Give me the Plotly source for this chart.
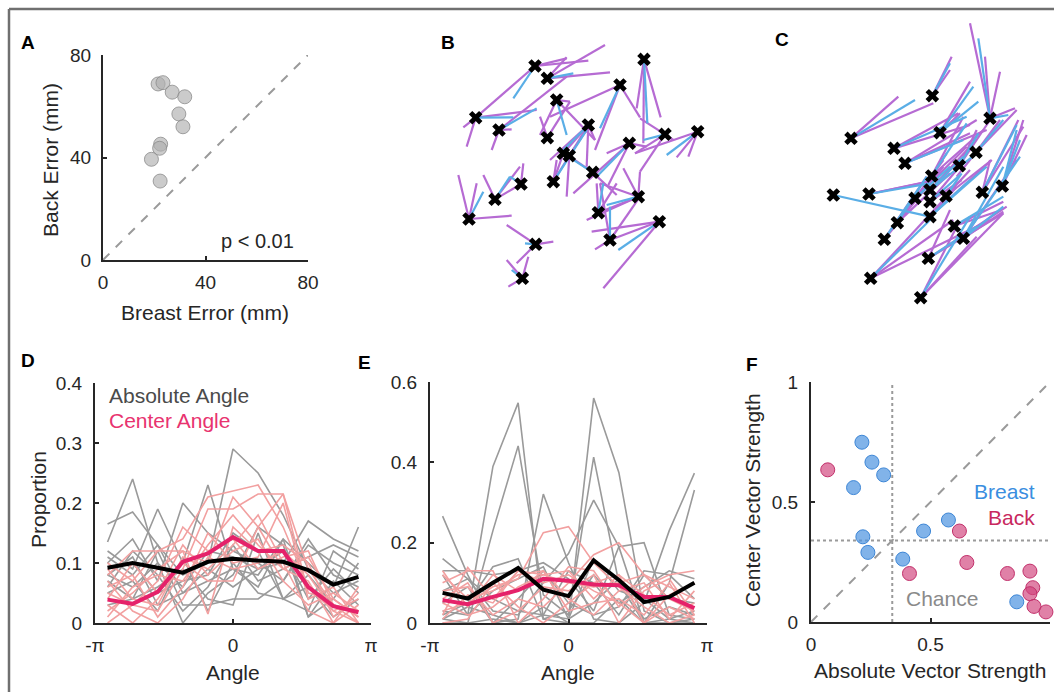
import plotly.graph_objects as go
import math

W, H = 1054, 692
PI = math.pi

# ---------------- Panel A data ----------------
a_breast = [21.5, 23.4, 27.0, 31.9, 29.6, 31.2, 22.5, 22.1, 18.9, 22.3]
a_back = [68.7, 69.2, 65.5, 63.7, 57.0, 52.0, 45.2, 43.6, 39.3, 30.8]

# ---------------- Panel B data (marker positions / segment end points, image units) ----------------
b_mx = [285, 322, 612, 540, 350, 107, 177, 445, 322, 675, 773, 568, 370, 388, 458, 340, 243, 165, 595, 475, 87, 658, 510, 287, 247]
b_my = [78, 115, 58, 135, 180, 233, 270, 255, 293, 283, 275, 310, 340, 347, 397, 425, 432, 478, 470, 518, 537, 545, 600, 613, 715]
b_purple = [(0, 445, 62), (0, 380, 55), (1, 510, 97), (1, 495, 15), (2, 610, 310), (2, 662, 232), (2, 590, 205),
            (3, 465, 330), (3, 600, 232), (3, 330, 230), (4, 300, 285), (4, 390, 185), (4, 465, 300),
            (5, 285, 78), (5, 290, 210), (5, 80, 320), (5, 70, 262), (6, 155, 330), (6, 215, 268), (6, 380, 110),
            (7, 440, 380), (7, 465, 300), (7, 330, 360), (8, 300, 230), (9, 600, 235), (9, 600, 395), (9, 585, 340),
            (10, 585, 340), (10, 710, 352), (10, 745, 350), (11, 500, 340), (11, 400, 460), (11, 505, 435),
            (12, 445, 255), (12, 340, 425), (13, 440, 270), (14, 390, 350), (14, 530, 465), (15, 445, 255),
            (15, 350, 360), (16, 250, 370), (16, 165, 478), (17, 130, 405), (17, 240, 380), (18, 480, 430),
            (18, 550, 385), (18, 440, 540), (19, 470, 430), (19, 595, 470), (19, 530, 430), (20, 55, 405),
            (20, 215, 527), (20, 110, 430), (21, 455, 575), (21, 490, 745), (22, 480, 430), (22, 465, 628),
            (22, 655, 545), (23, 200, 555), (23, 340, 605), (23, 230, 670), (24, 200, 660), (24, 205, 740),
            (24, 265, 650), (8, 390, 185), (13, 380, 470), (18, 600, 395), (11, 620, 320), (9, 700, 300),
            (22, 600, 470), (1, 380, 52)]
b_blue = [(0, 220, 175), (1, 400, 100), (2, 622, 250), (3, 480, 265), (4, 380, 285), (5, 220, 232), (6, 290, 205),
          (7, 370, 330), (9, 610, 300), (10, 680, 345), (11, 475, 405), (12, 458, 397), (15, 440, 270),
          (16, 210, 410), (17, 210, 410), (18, 500, 495), (19, 490, 430), (20, 130, 455), (21, 535, 630),
          (22, 510, 500), (23, 255, 610), (24, 215, 690)]

# ---------------- Panel C data ----------------
c_mx = [487, 243, 660, 510, 372, 618, 405, 568, 485, 190, 297, 435, 480, 480, 528, 697, 637, 480, 382, 343, 553, 580, 475, 302, 452]
c_my = [227, 355, 295, 338, 385, 397, 430, 437, 468, 525, 522, 535, 510, 545, 528, 498, 517, 590, 608, 658, 618, 655, 715, 775, 833]
c_purple = [(0, 545, 110), (0, 540, 150), (1, 385, 230), (1, 490, 250), (2, 600, 10), (2, 645, 110), (2, 690, 155),
            (2, 735, 265), (3, 600, 185), (3, 570, 280), (4, 565, 280), (4, 600, 315), (5, 690, 300), (5, 560, 470),
            (6, 600, 340), (6, 650, 330), (7, 660, 300), (7, 620, 330), (8, 580, 290), (8, 530, 400),
            (10, 500, 480), (10, 520, 475), (11, 520, 420), (11, 590, 380), (12, 560, 430), (12, 600, 380),
            (13, 560, 450), (13, 575, 480), (14, 600, 450), (14, 665, 420), (15, 760, 300), (15, 770, 345),
            (16, 745, 300), (16, 660, 420), (17, 560, 500), (17, 665, 420), (18, 500, 450), (18, 540, 460),
            (19, 470, 470), (19, 520, 440), (20, 700, 545), (20, 695, 570), (21, 740, 420), (21, 700, 575),
            (22, 540, 570), (22, 700, 580), (23, 520, 540), (23, 550, 600), (23, 660, 600), (24, 560, 620),
            (24, 700, 580), (24, 620, 650), (5, 740, 270), (16, 760, 320), (6, 620, 300), (8, 640, 330),
            (22, 710, 560)]
c_blue = [(0, 540, 130), (1, 435, 240), (2, 625, 55), (2, 715, 285), (3, 625, 245), (4, 590, 290), (5, 700, 300),
          (6, 580, 360), (7, 625, 340), (8, 590, 310), (9, 480, 590), (10, 480, 490), (11, 540, 440),
          (12, 580, 410), (13, 570, 465), (14, 575, 460), (15, 750, 360), (16, 740, 315), (17, 600, 480),
          (18, 470, 470), (19, 450, 500), (20, 700, 530), (21, 700, 440), (21, 700, 560), (22, 620, 620),
          (23, 490, 590), (24, 600, 590), (3, 610, 200), (15, 740, 330), (12, 620, 400), (17, 650, 440),
          (21, 750, 410)]

# ---------------- Panel D / E data ----------------
angles = [-2.856, -2.285, -1.714, -1.142, -0.571, 0.0, 0.571, 1.142, 1.714, 2.285, 2.856]

d_abs_mean = [0.092, 0.100, 0.092, 0.084, 0.102, 0.107, 0.104, 0.102, 0.088, 0.064, 0.077]
d_ctr_mean = [0.039, 0.032, 0.052, 0.102, 0.116, 0.143, 0.120, 0.120, 0.060, 0.028, 0.018]
d_abs = [
    [0.165, 0.185, 0.13, 0.08, 0.10, 0.29, 0.25, 0.18, 0.09, 0.05, 0.07],
    [0.135, 0.24, 0.10, 0.06, 0.12, 0.11, 0.09, 0.10, 0.17, 0.14, 0.12],
    [0.12, 0.09, 0.19, 0.10, 0.23, 0.09, 0.08, 0.14, 0.10, 0.06, 0.16],
    [0.10, 0.14, 0.07, 0.20, 0.15, 0.12, 0.10, 0.07, 0.13, 0.10, 0.08],
    [0.08, 0.06, 0.10, 0.00, 0.05, 0.08, 0.16, 0.13, 0.01, 0.04, 0.10],
    [0.07, 0.04, 0.12, 0.03, 0.03, 0.04, 0.04, 0.07, 0.14, 0.08, 0.06],
    [0.09, 0.10, 0.05, 0.07, 0.08, 0.15, 0.12, 0.04, 0.02, 0.12, 0.09],
    [0.05, 0.07, 0.02, 0.11, 0.02, 0.10, 0.05, 0.04, 0.06, 0.01, 0.04],
    [0.11, 0.08, 0.13, 0.05, 0.09, 0.06, 0.09, 0.12, 0.04, 0.09, 0.05],
    [0.06, 0.12, 0.08, 0.02, 0.06, 0.13, 0.07, 0.09, 0.11, 0.13, 0.11],
    [0.03, 0.04, 0.06, 0.09, 0.04, 0.03, 0.15, 0.04, 0.08, 0.03, 0.02],
    [0.08, 0.11, 0.03, 0.05, 0.07, 0.09, 0.06, 0.14, 0.01, 0.07, 0.03],
]
d_ctr = [
    [0.10, 0.07, 0.12, 0.14, 0.21, 0.22, 0.23, 0.16, 0.06, 0.02, 0.00],
    [0.08, 0.12, 0.12, 0.12, 0.10, 0.21, 0.16, 0.215, 0.09, 0.03, 0.02],
    [0.05, 0.03, 0.02, 0.09, 0.19, 0.19, 0.215, 0.215, 0.05, 0.04, 0.01],
    [0.00, 0.03, 0.07, 0.16, 0.12, 0.14, 0.09, 0.11, 0.12, 0.03, 0.00],
    [0.03, 0.00, 0.04, 0.10, 0.07, 0.07, 0.16, 0.09, 0.07, 0.00, 0.03],
    [0.06, 0.08, 0.01, 0.06, 0.15, 0.10, 0.11, 0.20, 0.04, 0.06, 0.00],
    [0.02, 0.05, 0.09, 0.12, 0.015, 0.16, 0.12, 0.13, 0.10, 0.01, 0.05],
    [0.04, 0.10, 0.05, 0.13, 0.08, 0.12, 0.14, 0.07, 0.03, 0.05, 0.02],
    [0.07, 0.02, 0.00, 0.04, 0.11, 0.09, 0.10, 0.12, 0.08, 0.02, 0.04],
    [0.01, 0.06, 0.08, 0.07, 0.13, 0.18, 0.13, 0.09, 0.11, 0.04, 0.01],
    [0.09, 0.04, 0.03, 0.11, 0.09, 0.13, 0.18, 0.10, 0.02, 0.00, 0.06],
]

e_abs_mean = [0.075, 0.061, 0.100, 0.137, 0.083, 0.067, 0.156, 0.107, 0.052, 0.065, 0.100]
e_ctr_mean = [0.057, 0.047, 0.065, 0.082, 0.110, 0.105, 0.096, 0.094, 0.065, 0.065, 0.037]
e_abs = [
    [0.03, 0.02, 0.39, 0.548, 0.01, 0.00, 0.56, 0.375, 0.03, 0.00, 0.01],
    [0.01, 0.00, 0.23, 0.441, 0.07, 0.02, 0.413, 0.10, 0.00, 0.01, 0.03],
    [0.266, 0.12, 0.00, 0.01, 0.321, 0.15, 0.01, 0.00, 0.05, 0.23, 0.373],
    [0.16, 0.11, 0.03, 0.02, 0.10, 0.173, 0.306, 0.19, 0.00, 0.10, 0.331],
    [0.13, 0.13, 0.12, 0.13, 0.15, 0.11, 0.03, 0.19, 0.20, 0.02, 0.01],
    [0.02, 0.05, 0.14, 0.16, 0.01, 0.03, 0.12, 0.05, 0.09, 0.13, 0.11],
    [0.00, 0.00, 0.01, 0.00, 0.04, 0.00, 0.00, 0.06, 0.00, 0.00, 0.00],
    [0.08, 0.11, 0.06, 0.03, 0.02, 0.13, 0.10, 0.02, 0.12, 0.06, 0.05],
    [0.12, 0.02, 0.08, 0.11, 0.14, 0.01, 0.05, 0.11, 0.01, 0.04, 0.02],
    [0.05, 0.09, 0.00, 0.06, 0.13, 0.05, 0.02, 0.04, 0.13, 0.12, 0.06],
    [0.01, 0.04, 0.02, 0.00, 0.02, 0.01, 0.16, 0.08, 0.06, 0.01, 0.00],
]
e_ctr = [
    [0.03, 0.05, 0.09, 0.11, 0.225, 0.24, 0.15, 0.09, 0.04, 0.00, 0.02],
    [0.02, 0.138, 0.06, 0.13, 0.12, 0.10, 0.17, 0.20, 0.12, 0.09, 0.06],
    [0.10, 0.13, 0.13, 0.00, 0.06, 0.14, 0.13, 0.04, 0.09, 0.12, 0.13],
    [0.05, 0.02, 0.04, 0.09, 0.12, 0.13, 0.06, 0.12, 0.00, 0.04, 0.01],
    [0.08, 0.09, 0.02, 0.06, 0.04, 0.10, 0.09, 0.10, 0.12, 0.06, 0.03],
    [0.12, 0.06, 0.08, 0.12, 0.13, 0.03, 0.05, 0.06, 0.02, 0.10, 0.00],
    [0.00, 0.01, 0.10, 0.04, 0.00, 0.05, 0.10, 0.12, 0.07, 0.02, 0.05],
    [0.06, 0.10, 0.00, 0.03, 0.09, 0.08, 0.12, 0.00, 0.08, 0.11, 0.02],
    [0.13, 0.04, 0.12, 0.08, 0.13, 0.06, 0.02, 0.08, 0.10, 0.01, 0.08],
    [0.01, 0.07, 0.05, 0.13, 0.10, 0.12, 0.08, 0.05, 0.00, 0.07, 0.10],
]

# ---------------- Panel F data ----------------
f_breast_abs = [0.213, 0.255, 0.304, 0.178, 0.217, 0.238, 0.384, 0.471, 0.575, 0.861]
f_breast_ctr = [0.749, 0.666, 0.613, 0.560, 0.355, 0.290, 0.262, 0.379, 0.425, 0.084]
f_back_abs = [0.070, 0.621, 0.412, 0.652, 0.822, 0.916, 0.928, 0.916, 0.933, 0.983]
f_back_ctr = [0.634, 0.379, 0.202, 0.248, 0.202, 0.212, 0.143, 0.118, 0.065, 0.042]
chance = 0.34

# ---------------- helpers ----------------
FONT = "Liberation Sans, Arial, Helvetica, sans-serif"
TXT = "#262626"
PURPLE = "#b66bd3"
BLUE = "#5aaee6"
GRAY = "#9a9a9a"
SALMON = "#f2a0a0"
PINK = "#e5226a"


def dom_x(a, b):
    return [a / W, b / W]


def dom_y(top, bottom):
    return [1 - bottom / H, 1 - top / H]


def seg_xy(mx, my, segs):
    xs, ys = [], []
    for i, ex, ey in segs:
        xs += [mx[i], ex, None]
        ys += [my[i], ey, None]
    return xs, ys


def multi(xv, series):
    xs, ys = [], []
    for s in series:
        xs += list(xv) + [None]
        ys += list(s) + [None]
    return xs, ys


fig = go.Figure()

# A
fig.add_trace(go.Scatter(x=[0, 80], y=[0, 80], mode="lines", line=dict(color=GRAY, width=2, dash="dash"),
                         xaxis="x", yaxis="y", hoverinfo="skip"))
fig.add_trace(go.Scatter(x=a_breast, y=a_back, mode="markers",
                         marker=dict(size=14, color="rgba(175,175,175,0.65)", line=dict(color="rgba(140,140,140,0.8)", width=1)),
                         xaxis="x", yaxis="y"))

# B
for segs, col in [(b_purple, PURPLE), (b_blue, BLUE)]:
    xs, ys = seg_xy(b_mx, b_my, segs)
    fig.add_trace(go.Scatter(x=xs, y=ys, mode="lines", line=dict(color=col, width=2.2), xaxis="x2", yaxis="y2",
                             hoverinfo="skip"))
fig.add_trace(go.Scatter(x=b_mx, y=b_my, mode="markers", marker=dict(symbol="x", size=12, color="black",
                                                                      line=dict(width=0)), xaxis="x2", yaxis="y2"))

# C
for segs, col in [(c_purple, PURPLE), (c_blue, BLUE)]:
    xs, ys = seg_xy(c_mx, c_my, segs)
    fig.add_trace(go.Scatter(x=xs, y=ys, mode="lines", line=dict(color=col, width=2.2), xaxis="x3", yaxis="y3",
                             hoverinfo="skip"))
fig.add_trace(go.Scatter(x=c_mx, y=c_my, mode="markers", marker=dict(symbol="x", size=12, color="black",
                                                                      line=dict(width=0)), xaxis="x3", yaxis="y3"))

# D and E
for xa, ya, gser, pser, gm, pm in [("x4", "y4", d_abs, d_ctr, d_abs_mean, d_ctr_mean),
                                   ("x5", "y5", e_abs, e_ctr, e_abs_mean, e_ctr_mean)]:
    xs, ys = multi(angles, gser)
    fig.add_trace(go.Scatter(x=xs, y=ys, mode="lines", line=dict(color=GRAY, width=1.6), xaxis=xa, yaxis=ya))
    xs, ys = multi(angles, pser)
    fig.add_trace(go.Scatter(x=xs, y=ys, mode="lines", line=dict(color=SALMON, width=1.6), xaxis=xa, yaxis=ya))
    fig.add_trace(go.Scatter(x=angles, y=pm, mode="lines", line=dict(color=PINK, width=4), xaxis=xa, yaxis=ya))
    fig.add_trace(go.Scatter(x=angles, y=gm, mode="lines", line=dict(color="black", width=4), xaxis=xa, yaxis=ya))

# F
fig.add_trace(go.Scatter(x=[0, 1], y=[0, 1], mode="lines", line=dict(color=GRAY, width=2, dash="dash"),
                         xaxis="x6", yaxis="y6"))
fig.add_trace(go.Scatter(x=[chance, chance, None, 0, 1], y=[0, 1, None, chance, chance], mode="lines",
                         line=dict(color=GRAY, width=2, dash="dot"), xaxis="x6", yaxis="y6"))
fig.add_trace(go.Scatter(x=f_breast_abs, y=f_breast_ctr, mode="markers",
                         marker=dict(size=14, color="rgba(80,150,225,0.72)", line=dict(color="#3d86d6", width=1)),
                         xaxis="x6", yaxis="y6", cliponaxis=False))
fig.add_trace(go.Scatter(x=f_back_abs, y=f_back_ctr, mode="markers",
                         marker=dict(size=14, color="rgba(210,70,125,0.68)", line=dict(color="#c2306b", width=1)),
                         xaxis="x6", yaxis="y6", cliponaxis=False))


def axis(dom, rng, tickvals=None, ticktext=None, anchor=None, standoff=8):
    d = dict(domain=dom, range=rng, showline=True, linecolor=TXT, linewidth=2, ticks="inside", ticklen=4,
             tickwidth=1.5, tickcolor=TXT, showgrid=False, zeroline=False, anchor=anchor, automargin=False,
             tickfont=dict(size=19, color=TXT, family=FONT), ticklabelstandoff=standoff)
    if tickvals is not None:
        d["tickvals"] = tickvals
    if ticktext is not None:
        d["ticktext"] = ticktext
    return d


def hidden(dom, rng, anchor):
    return dict(domain=dom, range=rng, visible=False, anchor=anchor, automargin=False)


XS, YS = 4, 6
layout = dict(
    template="none",
    width=W, height=H, margin=dict(l=0, r=0, t=0, b=0, pad=0, autoexpand=False), showlegend=False,
    paper_bgcolor="white", plot_bgcolor="rgba(0,0,0,0)", font=dict(family=FONT, color=TXT, size=19),
    xaxis=axis(dom_x(103, 308), [0, 80], [0, 40, 80], None, "y", XS),
    yaxis=axis(dom_y(55, 260), [0, 80], [0, 40, 80], None, "x", YS),
    xaxis2=hidden(dom_x(440, 720), [0, 840], "y2"),
    yaxis2=hidden(dom_y(40, 300), [780, 0], "x2"),
    xaxis3=hidden(dom_x(770, 1050), [0, 840], "y3"),
    yaxis3=hidden(dom_y(20, 310), [870, 0], "x3"),
    xaxis4=axis(dom_x(95, 371), [-PI, PI], [-PI, 0, PI], ["-π", "0", "π"], "y4", XS),
    yaxis4=axis(dom_y(383, 623), [0, 0.4], [0, 0.1, 0.2, 0.3, 0.4], ["0", "0.1", "0.2", "0.3", "0.4"], "x4", YS + 1),
    xaxis5=axis(dom_x(430, 707), [-PI, PI], [-PI, 0, PI], ["-π", "0", "π"], "y5", XS),
    yaxis5=axis(dom_y(382, 623), [0, 0.6], [0, 0.2, 0.4, 0.6], ["0", "0.2", "0.4", "0.6"], "x5", YS + 1),
    xaxis6=axis(dom_x(811, 1050), [0, 1], [0, 0.5, 1], ["0", "0.5", "1"], "y6", XS),
    yaxis6=axis(dom_y(382, 622), [0, 1], [0, 0.5, 1], ["0", "0.5", "1"], "x6", YS + 1),
)
fig.update_layout(**layout)


def ptext(px, py, text, size=20, color=TXT, angle=0, bold=False, xanchor="center"):
    t = f"<b>{text}</b>" if bold else text
    fig.add_annotation(x=px / W, y=1 - py / H, xref="paper", yref="paper", text=t, showarrow=False,
                       font=dict(size=size, color=color, family=FONT), textangle=angle,
                       xanchor=xanchor, yanchor="middle")


# panel letters
for lbl, px, py in [("A", 28, 42), ("B", 448, 42), ("C", 782, 40), ("D", 28, 360), ("E", 364, 362), ("F", 752, 364)]:
    ptext(px, py, lbl, size=19, color="black", bold=True)

# axis titles
ptext(205, 312, "Breast Error (mm)", size=21)
ptext(50, 160, "Back Error (mm)", size=21, angle=-90)
ptext(233, 672, "Angle", size=21)
ptext(568, 672, "Angle", size=21)
ptext(38, 500, "Proportion", size=21, angle=-90)
ptext(930, 670, "Absolute Vector Strength", size=21)
ptext(752, 500, "Center Vector Strength", size=21, angle=-90)

# in-plot texts (data coordinates)
fig.add_annotation(x=60.3, y=7.4, xref="x", yref="y", text="p < 0.01", showarrow=False,
                   font=dict(size=20, color=TXT, family=FONT))
fig.add_annotation(x=-2.868, y=0.38, xref="x4", yref="y4", text="Absolute Angle", showarrow=False, xanchor="left",
                   font=dict(size=21, color="#4a4a4a", family=FONT))
fig.add_annotation(x=-2.868, y=0.337, xref="x4", yref="y4", text="Center Angle", showarrow=False, xanchor="left",
                   font=dict(size=21, color="#e8336f", family=FONT))
fig.add_annotation(x=0.946, y=0.542, xref="x6", yref="y6", text="Breast", showarrow=False, xanchor="right",
                   font=dict(size=21, color="#3a8ee0", family=FONT))
fig.add_annotation(x=0.946, y=0.4375, xref="x6", yref="y6", text="Back", showarrow=False, xanchor="right",
                   font=dict(size=21, color="#c8285e", family=FONT))
fig.add_annotation(x=0.548, y=0.096, xref="x6", yref="y6", text="Chance", showarrow=False,
                   font=dict(size=21, color="#8a8a8a", family=FONT))

# frame
fig.add_shape(type="line", xref="paper", yref="paper", x0=9 / W, x1=1, y0=1 - 9 / H, y1=1 - 9 / H,
              line=dict(color="#707070", width=2.5))
fig.add_shape(type="line", xref="paper", yref="paper", x0=9 / W, x1=9 / W, y0=0, y1=1 - 9 / H,
              line=dict(color="#707070", width=2.5))

fig.write_html("out.html", config={"displayModeBar": False},
               post_script="document.body.style.margin='0px';document.body.style.overflow='hidden';")
